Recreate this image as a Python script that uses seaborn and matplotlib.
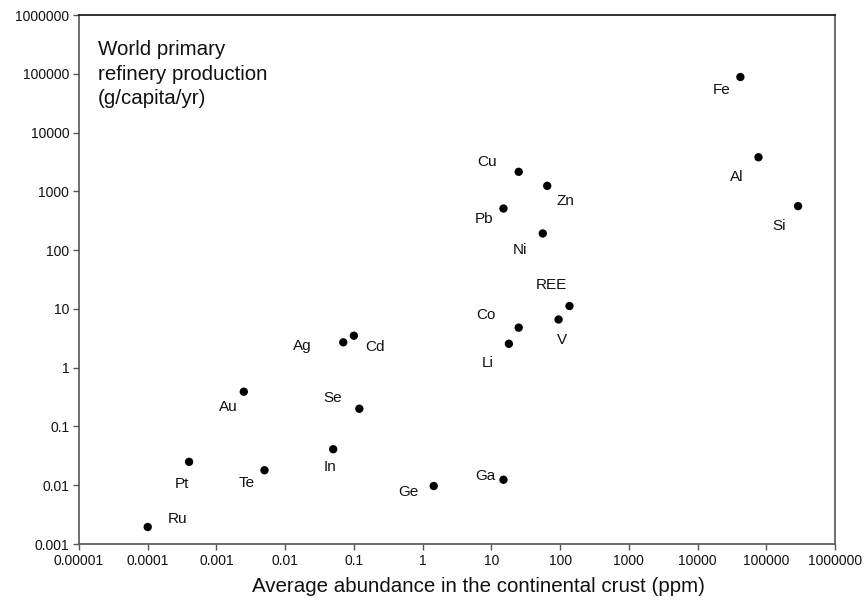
import matplotlib
matplotlib.use("Agg")
import matplotlib.pyplot as plt
import pandas as pd
import seaborn as sns

# Element symbols
elements = ["Fe", "Al", "Si", "Cu", "Zn", "Pb", "Ni", "REE", "Co", "V", "Li",
            "Ag", "Cd", "Se", "Au", "In", "Pt", "Te", "Ge", "Ga", "Ru"]
# Average abundance in the continental crust (ppm)
abundance = [42000, 77000, 290000, 25, 65, 15, 56, 137, 25, 95, 18,
             0.07, 0.1, 0.12, 0.0025, 0.05, 0.0004, 0.005, 1.45, 15, 0.0001]
# World primary refinery production (g/capita/yr)
production = [88000, 3800, 560, 2150, 1240, 510, 192, 11.2, 4.8, 6.6, 2.55,
              2.7, 3.5, 0.2, 0.39, 0.041, 0.025, 0.018, 0.0097, 0.0124, 0.00195]

x_ticks = [1e-5, 1e-4, 1e-3, 1e-2, 1e-1, 1, 10, 100, 1e3, 1e4, 1e5, 1e6]
x_tick_labels = ["0.00001", "0.0001", "0.001", "0.01", "0.1", "1", "10", "100",
                 "1000", "10000", "100000", "1000000"]
y_ticks = [1e-3, 1e-2, 1e-1, 1, 10, 100, 1e3, 1e4, 1e5, 1e6]
y_tick_labels = ["0.001", "0.01", "0.1", "1", "10", "100", "1000", "10000",
                 "100000", "1000000"]

# Label placement around each marker (offset in pixels)
label_offsets = {
    "Fe": (-19, -13), "Al": (-22, -20), "Si": (-19, -20), "Cu": (-32, 10),
    "Zn": (18, -15), "Pb": (-19, -10), "Ni": (-23, -17), "REE": (-18, 21),
    "Co": (-33, 13), "V": (3, -20), "Li": (-21, -19), "Ag": (-41, -4),
    "Cd": (21, -11), "Se": (-27, 11), "Au": (-15, -15), "In": (-3, -18),
    "Pt": (-7, -22), "Te": (-18, -13), "Ge": (-25, -6), "Ga": (-18, 4),
    "Ru": (30, 8),
}

df = pd.DataFrame({"element": elements, "abundance": abundance,
                   "production": production})

sns.set_style("white")
plt.rcParams["font.family"] = ["Liberation Sans", "DejaVu Sans"]

fig = plt.figure(figsize=(8.67, 6.0), dpi=100)
ax = fig.add_axes([0.0911, 0.0933, 0.872, 0.8817])

sns.scatterplot(data=df, x="abundance", y="production", ax=ax,
                color="black", s=36, edgecolor="none", legend=False, zorder=3)

ax.set_xscale("log")
ax.set_yscale("log")
ax.set_xlim(1e-5, 1e6)
ax.set_ylim(1e-3, 1e6)
ax.set_xticks(x_ticks)
ax.set_xticklabels(x_tick_labels)
ax.set_yticks(y_ticks)
ax.set_yticklabels(y_tick_labels)
ax.minorticks_off()
ax.tick_params(axis="both", which="major", direction="out", length=4,
               width=1, color="#555555", labelsize=10, labelcolor="#111111",
               bottom=True, left=True, pad=3)

for side in ["left", "right", "bottom"]:
    ax.spines[side].set_color("#555555")
    ax.spines[side].set_linewidth(1.2)
ax.spines["top"].set_color("#111111")
ax.spines["top"].set_linewidth(1.2)

ax.set_xlabel("Average abundance in the continental crust (ppm)",
              fontsize=14.8, color="#111111")
ax.xaxis.set_label_coords(0.528, -0.062)
ax.xaxis.label.set_va("top")
ax.set_ylabel("")

for name, xv, yv in zip(elements, abundance, production):
    dx, dy = label_offsets[name]
    ax.annotate(name, (xv, yv), xytext=(dx, dy), textcoords="offset pixels",
                ha="center", va="center", fontsize=11, color="#111111")

ax.text(0.025, 0.953, "World primary\nrefinery production\n(g/capita/yr)",
        transform=ax.transAxes, ha="left", va="top", fontsize=14.8,
        color="#111111", linespacing=1.38)

fig.savefig("out.png", dpi=100)
